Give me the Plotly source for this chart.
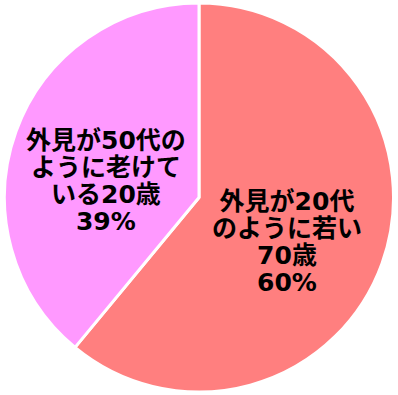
import plotly.graph_objects as go

labels = ["外見が20代のように若い70歳", "外見が50代のように老けている20歳"]
label_lines = [
    ["外見が20代", "のように若い", "70歳", "60%"],
    ["外見が50代の", "ように老けて", "いる20歳", "39%"],
]
values = [61, 39]
colors = ["#FF7F7F", "#FF99FF"]

W, H = 398, 395
# label block centres (pixels)
label_centres = [(288, 243), (105, 181)]

fig = go.Figure(go.Pie(
    labels=labels,
    values=values,
    textinfo="none",
    sort=False,
    direction="clockwise",
    rotation=0,
    marker=dict(colors=colors, line=dict(color="white", width=3)),
    showlegend=False,
    hoverinfo="skip",
))

annotations = []
for lines, (cx, cy) in zip(label_lines, label_centres):
    txt = "<br>".join(f'<span style="font-size:25px">{t}</span>' for t in lines)
    annotations.append(dict(
        text=txt, x=cx / W, y=1 - cy / H, xref="paper", yref="paper",
        xanchor="center", yanchor="middle", showarrow=False,
        align="center",
        font=dict(family="DejaVu Sans, Noto Sans CJK JP", size=20.8,
                  color="black", weight="bold"),
    ))

fig.update_layout(
    width=W, height=H,
    margin=dict(l=3, r=3, t=3, b=3),
    paper_bgcolor="white",
    annotations=annotations,
)
fig.write_html("out.html")
